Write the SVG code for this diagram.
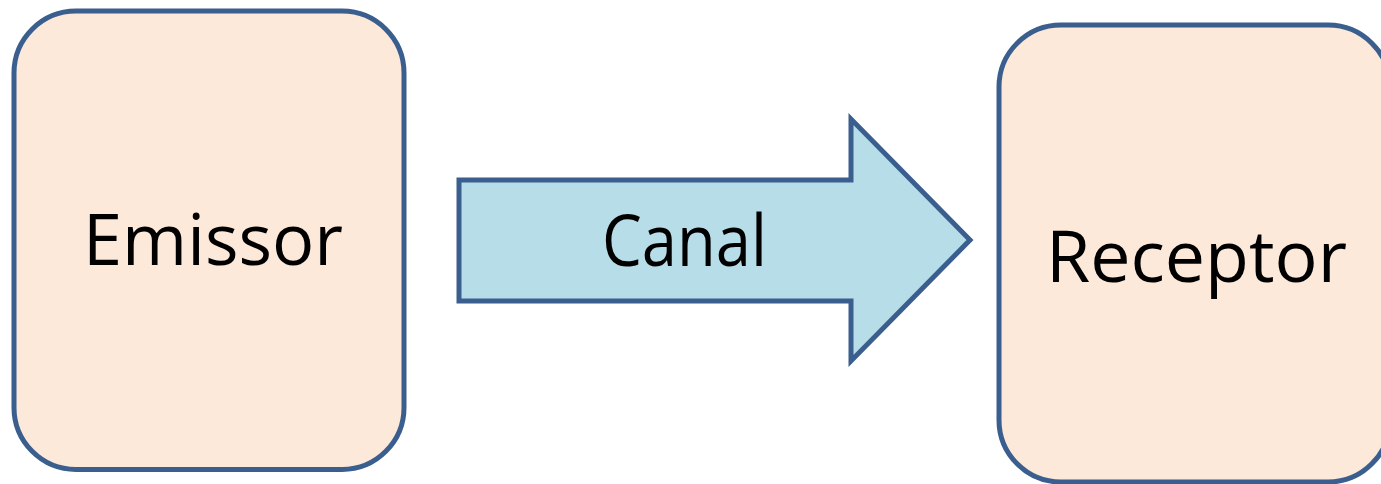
<svg xmlns="http://www.w3.org/2000/svg" width="1381" height="484" viewBox="0 0 1381 484">
<style>
.box{fill:#FDE9D9;stroke:#3A5F8E;stroke-width:5}
.arrow{fill:#B7DEE8;stroke:#3A5F8E;stroke-width:5;stroke-linejoin:miter}
.lbl{font-family:"Open Sans","Liberation Sans",sans-serif;font-size:72px;fill:#000;text-anchor:middle}
</style>
<rect width="1381" height="484" fill="#fff"/>
<g id="emissor">
<rect class="box" x="14" y="11" width="390" height="458.5" rx="62" ry="62"/>
<text class="lbl" x="213" y="265" textLength="260" lengthAdjust="spacingAndGlyphs">Emissor</text>
</g>
<g id="connectors">
<g id="canal">
<polygon class="arrow" points="459,180 851,180 851,119 970,240 851,361 851,301 459,301"/>
<text class="lbl" x="684.5" y="266" textLength="165" lengthAdjust="spacingAndGlyphs">Canal</text>
</g>
</g>
<g id="receptor">
<rect class="box" x="999" y="25" width="391" height="457" rx="62" ry="62"/>
<text class="lbl" x="1196.5" y="282" textLength="301" lengthAdjust="spacingAndGlyphs">Receptor</text>
</g>
</svg>
